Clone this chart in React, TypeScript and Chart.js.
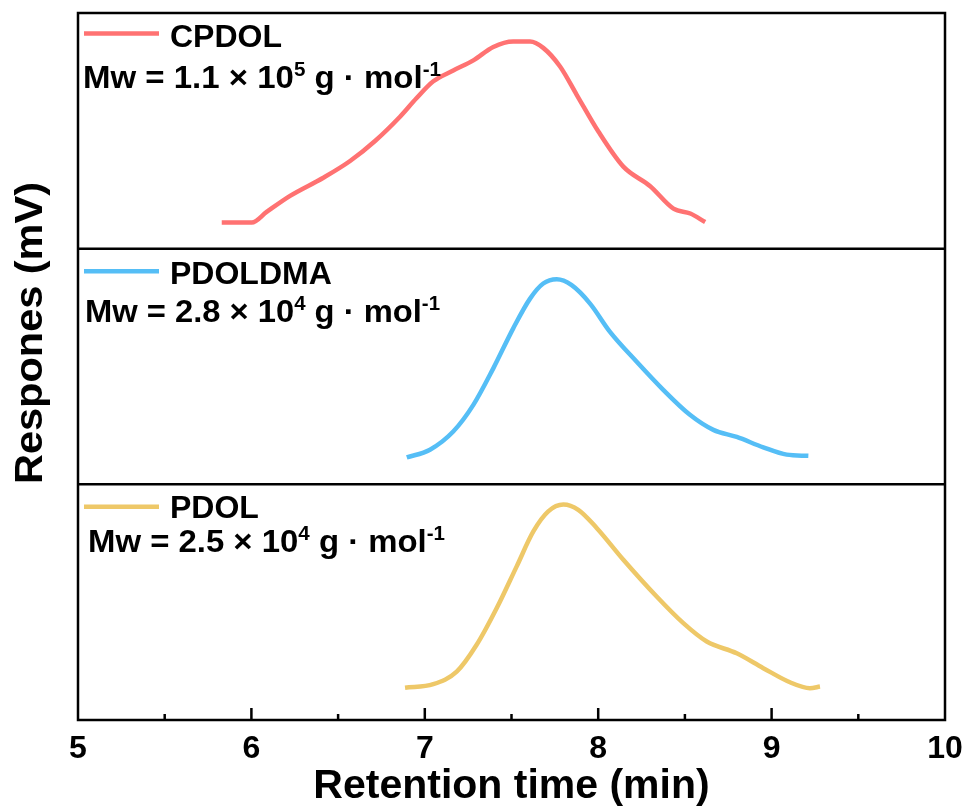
import React, { useEffect, useRef } from "react";
import { Chart, registerables } from "chart.js";

Chart.register(...registerables);

const FONT = "Arial, 'Liberation Sans', Helvetica, sans-serif";

const seriesNames = ["CPDOL", "PDOLDMA", "PDOL"];
const seriesColors = ["#FF7272", "#55BEF6", "#EEC868"];
const mwMantissa = ["1.1", "2.8", "2.5"];
const mwExponent = ["5", "4", "4"];

const xTicks = [5, 6, 7, 8, 9, 10];
const xLabel = "Retention time (min)";
const yLabel = "Respones (mV)";

const cpdolTime = [5.829, 6.002, 6.088, 6.223, 6.415, 6.569, 6.713, 6.857, 6.953, 7.049, 7.164, 7.28, 7.395, 7.51, 7.607, 7.683, 7.78, 7.876, 8.001, 8.145, 8.3, 8.434, 8.531, 8.617];
const cpdolResp = [11.1, 11.1, 15.6, 22.4, 30.1, 37.2, 45.7, 56.0, 63.9, 71.0, 75.6, 79.9, 85.6, 87.9, 87.9, 85.2, 77.3, 65.3, 49.7, 34.8, 26.5, 17.0, 14.9, 11.3];

const pdoldmaTime = [6.896, 7.03, 7.164, 7.28, 7.395, 7.51, 7.607, 7.683, 7.761, 7.847, 7.953, 8.068, 8.222, 8.375, 8.529, 8.664, 8.799, 8.952, 9.087, 9.212];
const pdoldmaResp = [11.4, 14.7, 22.4, 33.7, 49.2, 66.2, 78.8, 85.2, 87.0, 84.5, 76.7, 64.7, 52.0, 40.1, 29.5, 23.1, 20.1, 15.7, 12.6, 12.1];

const pdolTime = [6.886, 7.049, 7.184, 7.299, 7.415, 7.53, 7.626, 7.712, 7.799, 7.885, 7.991, 8.145, 8.337, 8.491, 8.626, 8.799, 8.952, 9.106, 9.221, 9.279];
const pdolResp = [13.7, 15.2, 20.5, 31.9, 47.5, 65.2, 80.0, 88.5, 91.4, 89.2, 81.5, 68.0, 52.4, 41.1, 33.3, 28.3, 22.0, 16.0, 13.5, 14.2];

const panelTimes = [cpdolTime, pdoldmaTime, pdolTime];
const panelResps = [cpdolResp, pdoldmaResp, pdolResp];
const panelAxes = ["yTop", "yMid", "yBot"];

// legend layout relative to each panel top
const legendLayout = [
  { lineY: 20.5, titleBase: 33.5, mwX: 83, mwBase: 75, mwWidth: 358 },
  { lineY: 22.7, titleBase: 35, mwX: 85, mwBase: 73.5, mwWidth: 355 },
  { lineY: 22.3, titleBase: 33.6, mwX: 88, mwBase: 68, mwWidth: 357 },
];

const framePlugin = {
  id: "framePlugin",
  afterDatasetsDraw(chart: any) {
    const { ctx, chartArea, scales } = chart;
    const x = scales.x;
    ctx.save();
    ctx.strokeStyle = "#000";
    ctx.lineWidth = 2.5;
    ctx.strokeRect(chartArea.left, chartArea.top, chartArea.right - chartArea.left, chartArea.bottom - chartArea.top);
    ["yTop", "yMid"].forEach((id) => {
      const yb = scales[id].bottom;
      ctx.beginPath();
      ctx.moveTo(chartArea.left, yb);
      ctx.lineTo(chartArea.right, yb);
      ctx.stroke();
    });
    for (let v = 5.5; v < 10; v += 0.5) {
      const px = x.getPixelForValue(v);
      const major = Math.abs(v - Math.round(v)) < 1e-6;
      const len = major ? 12 : 6;
      ctx.beginPath();
      ctx.moveTo(px, chartArea.bottom);
      ctx.lineTo(px, chartArea.bottom - len);
      ctx.stroke();
    }
    panelAxes.forEach((id, i) => {
      const top = scales[id].top;
      const L = legendLayout[i];
      ctx.strokeStyle = seriesColors[i];
      ctx.lineWidth = 4.5;
      ctx.beginPath();
      ctx.moveTo(84, top + L.lineY);
      ctx.lineTo(159, top + L.lineY);
      ctx.stroke();
      ctx.fillStyle = "#000";
      ctx.textBaseline = "alphabetic";
      ctx.textAlign = "left";
      ctx.font = `bold 32px ${FONT}`;
      ctx.fillText(seriesNames[i], 170, top + L.titleBase);

      const segs = [
        { t: `Mw = ${mwMantissa[i]} × 10`, sup: false },
        { t: mwExponent[i], sup: true },
        { t: " g · mol", sup: false },
        { t: "-1", sup: true },
      ];
      const mainFont = `bold 32px ${FONT}`;
      const supFont = `bold 20px ${FONT}`;
      let total = 0;
      segs.forEach((s) => {
        ctx.font = s.sup ? supFont : mainFont;
        total += ctx.measureText(s.t).width;
      });
      const sx = L.mwWidth / total;
      ctx.save();
      ctx.translate(L.mwX, top + L.mwBase);
      ctx.scale(sx, 1);
      let cx = 0;
      segs.forEach((s) => {
        ctx.font = s.sup ? supFont : mainFont;
        ctx.fillText(s.t, cx, s.sup ? -12 : 0);
        cx += ctx.measureText(s.t).width;
      });
      ctx.restore();
    });
    ctx.save();
    ctx.fillStyle = "#000";
    ctx.font = `bold 38px ${FONT}`;
    const w = ctx.measureText(yLabel).width;
    ctx.translate(42, 333);
    ctx.rotate(-Math.PI / 2);
    ctx.scale(302 / w, 1);
    ctx.textAlign = "center";
    ctx.textBaseline = "alphabetic";
    ctx.fillText(yLabel, 0, 0);
    ctx.restore();
    ctx.restore();
  },
};

export default function App() {
  const ref = useRef<HTMLCanvasElement>(null);
  useEffect(() => {
    if (!ref.current) return;
    const datasets = panelAxes.map((id, i) => ({
      label: seriesNames[i],
      data: panelTimes[i].map((t, j) => ({ x: t, y: panelResps[i][j] })),
      yAxisID: id,
      borderColor: seriesColors[i],
      backgroundColor: seriesColors[i],
      borderWidth: 4.5,
      pointRadius: 0,
      fill: false,
      cubicInterpolationMode: "monotone" as const,
      borderCapStyle: "butt" as const,
    }));
    const yScale = (weight: number) => ({
      type: "linear" as const,
      min: 0,
      max: 100,
      stack: "gpc",
      stackWeight: 1,
      weight,
      display: false,
      offset: false,
    });
    const chart = new Chart(ref.current, {
      type: "line",
      data: { datasets },
      options: {
        responsive: false,
        animation: false,
        layout: { padding: { left: 78, right: 21, top: 13, bottom: 0 } },
        plugins: { legend: { display: false }, tooltip: { enabled: false } },
        scales: {
          x: {
            type: "linear",
            min: 5,
            max: 10,
            position: "bottom",
            afterBuildTicks: (s: any) => {
              s.ticks = xTicks.map((v) => ({ value: v }));
            },
            afterFit: (s: any) => {
              s.height = 91;
              s.paddingLeft = 0;
              s.paddingRight = 0;
            },
            ticks: {
              padding: 9.5,
              color: "#000",
              maxRotation: 0,
              autoSkip: false,
              font: { family: FONT, size: 32, weight: "bold" },
              callback: (v: any) => String(v),
            },
            grid: { display: false, drawTicks: false },
            border: { display: false },
            title: {
              display: true,
              text: xLabel,
              color: "#000",
              font: { family: FONT, size: 41, weight: "bold" },
              padding: { top: 0, bottom: 0 },
            },
          },
          yTop: yScale(3),
          yMid: yScale(2),
          yBot: yScale(1),
        } as any,
      },
      plugins: [framePlugin],
    });
    return () => chart.destroy();
  }, []);
  return (
    <div style={{ position: "fixed", left: 0, top: 0, width: 966, height: 811, background: "#fff" }}>
      <canvas ref={ref} width={966} height={811} style={{ display: "block", width: 966, height: 811 }} />
    </div>
  );
}
